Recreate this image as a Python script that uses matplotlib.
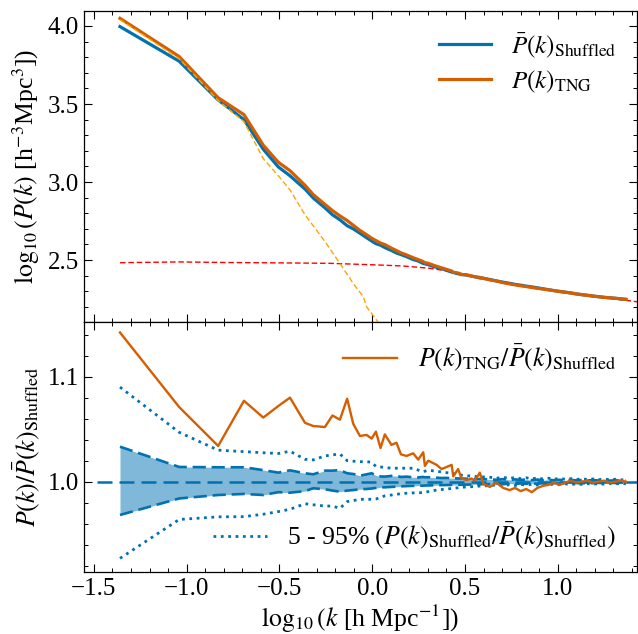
import matplotlib
matplotlib.use("Agg")
import matplotlib.pyplot as plt
from matplotlib.ticker import MultipleLocator, AutoMinorLocator

# ---------------------------------------------------------------- data
# log10 of the k-bin centres [h/Mpc]
log_k = [-1.359, -1.040, -0.830, -0.691, -0.587, -0.506, -0.443, -0.362,
         -0.318, -0.255, -0.214, -0.174, -0.135, -0.102, -0.066, -0.030,
         -0.003, 0.020, 0.045, 0.068, 0.104, 0.131, 0.155, 0.185, 0.221,
         0.248, 0.275, 0.284, 0.302, 0.347, 0.374, 0.401, 0.428, 0.437,
         0.463, 0.482, 0.509, 0.535, 0.553, 0.580, 0.598, 0.634, 0.670,
         0.706, 0.740, 0.770, 0.800, 0.830, 0.860, 0.890, 0.920, 0.950,
         0.980, 1.010, 1.040, 1.070, 1.100, 1.130, 1.160, 1.190, 1.220,
         1.250, 1.280, 1.310, 1.340, 1.367]

# log10 P(k): mean of the shuffled catalogues
logP_shuffled = [3.996, 3.774, 3.526, 3.400, 3.210, 3.097, 3.040, 2.955,
                 2.898, 2.835, 2.790, 2.758, 2.720, 2.700, 2.672, 2.643,
                 2.622, 2.605, 2.595, 2.580, 2.561, 2.545, 2.535, 2.522,
                 2.503, 2.494, 2.478, 2.476, 2.470, 2.453, 2.445, 2.434,
                 2.423, 2.420, 2.412, 2.407, 2.404, 2.397, 2.393, 2.385,
                 2.384, 2.375, 2.366, 2.358, 2.351, 2.344, 2.339, 2.333,
                 2.328, 2.322, 2.316, 2.310, 2.304, 2.299, 2.294, 2.289,
                 2.283, 2.278, 2.274, 2.269, 2.265, 2.261, 2.258, 2.255,
                 2.251, 2.248]

# log10 P(k): TNG
logP_tng = [4.049, 3.804, 3.540, 3.432, 3.236, 3.127, 3.073, 2.979,
            2.920, 2.857, 2.817, 2.783, 2.753, 2.723, 2.690, 2.662,
            2.640, 2.625, 2.609, 2.599, 2.576, 2.561, 2.546, 2.533,
            2.515, 2.503, 2.490, 2.483, 2.479, 2.460, 2.450, 2.440,
            2.430, 2.422, 2.417, 2.408, 2.405, 2.398, 2.393, 2.389,
            2.383, 2.373, 2.366, 2.355, 2.347, 2.341, 2.335, 2.330,
            2.324, 2.319, 2.314, 2.309, 2.304, 2.298, 2.294, 2.289,
            2.283, 2.278, 2.274, 2.269, 2.265, 2.261, 2.258, 2.255,
            2.251, 2.248]

# ratio P_TNG / mean P_shuffled
ratio_tng = [1.142, 1.071, 1.034, 1.077, 1.061, 1.072, 1.080, 1.056,
             1.053, 1.052, 1.063, 1.059, 1.079, 1.055, 1.0435, 1.0445,
             1.041, 1.0476, 1.032, 1.045, 1.035, 1.037, 1.026, 1.0245,
             1.027, 1.021, 1.028, 1.015, 1.020, 1.016, 1.012, 1.014,
             1.016, 1.005, 1.012, 1.003, 1.0016, 1.003, 1.001, 1.0086,
             0.998, 0.995, 0.999, 0.994, 0.992, 0.994, 0.991, 0.993,
             0.990, 0.994, 0.996, 0.997, 0.999, 0.997, 0.999, 1.001,
             0.999, 1.000, 1.001, 0.999, 1.000, 1.001, 0.999, 1.000,
             1.001, 1.000]

# 16th / 84th percentiles of the shuffled ratios
ratio_lo = [0.9683, 0.9840, 0.9873, 0.9883, 0.9873, 0.9900, 0.9895, 0.9910,
            0.9937, 0.9928, 0.9915, 0.9905, 0.9915, 0.9920, 0.9928, 0.9930,
            0.9935, 0.9940, 0.9946, 0.9946, 0.9950, 0.9952, 0.9955, 0.9958,
            0.9960, 0.9962, 0.9962, 0.9963, 0.9964, 0.9966, 0.9967, 0.9968,
            0.9969, 0.9969, 0.9970, 0.9971, 0.9972, 0.9973, 0.9974, 0.9975,
            0.9976, 0.9977, 0.9981, 0.9976, 0.9982, 0.9978, 0.9983, 0.9979,
            0.9984, 0.9980, 0.9985, 0.9981, 0.9986, 0.9982, 0.9987, 0.9983,
            0.9987, 0.9984, 0.9988, 0.9985, 0.9989, 0.9986, 0.9990, 0.9987,
            0.9991, 0.9989]
ratio_hi = [1.0333, 1.0140, 1.0137, 1.0137, 1.0110, 1.0086, 1.0108, 1.0080,
            1.0070, 1.0105, 1.0105, 1.0110, 1.0080, 1.0073, 1.0057, 1.0070,
            1.0080, 1.0060, 1.0050, 1.0048, 1.0055, 1.0054, 1.0045, 1.0048,
            1.0042, 1.0040, 1.0045, 1.0042, 1.0042, 1.0038, 1.0035, 1.0036,
            1.0032, 1.0034, 1.0030, 1.0031, 1.0028, 1.0027, 1.0026, 1.0025,
            1.0024, 1.0022, 1.0018, 1.0024, 1.0017, 1.0022, 1.0016, 1.0021,
            1.0015, 1.0020, 1.0014, 1.0019, 1.0013, 1.0018, 1.0012, 1.0017,
            1.0012, 1.0016, 1.0011, 1.0015, 1.0011, 1.0014, 1.0010, 1.0013,
            1.0009, 1.0011]

# 5th / 95th percentiles of the shuffled ratios
ratio_p05 = [0.9270, 0.9640, 0.9665, 0.9667, 0.9690, 0.9715, 0.9737, 0.9790,
             0.9780, 0.9768, 0.9768, 0.9746, 0.9810, 0.9820, 0.9832, 0.9832,
             0.9832, 0.9835, 0.9850, 0.9865, 0.9873, 0.9880, 0.9885, 0.9890,
             0.9893, 0.9895, 0.9895, 0.9900, 0.9905, 0.9920, 0.9925, 0.9930,
             0.9935, 0.9937, 0.9942, 0.9946, 0.9950, 0.9952, 0.9955, 0.9958,
             0.9960, 0.9962, 0.9970, 0.9961, 0.9972, 0.9964, 0.9974, 0.9966,
             0.9975, 0.9968, 0.9977, 0.9969, 0.9978, 0.9971, 0.9979, 0.9972,
             0.9980, 0.9974, 0.9981, 0.9975, 0.9982, 0.9976, 0.9983, 0.9978,
             0.9984, 0.9980]
ratio_p95 = [1.0900, 1.0470, 1.0300, 1.0286, 1.0275, 1.0268, 1.0290, 1.0213,
             1.0207, 1.0245, 1.0255, 1.0264, 1.0200, 1.0195, 1.0190, 1.0190,
             1.0185, 1.0145, 1.0140, 1.0135, 1.0128, 1.0128, 1.0128, 1.0128,
             1.0128, 1.0110, 1.0095, 1.0100, 1.0108, 1.0100, 1.0092, 1.0086,
             1.0080, 1.0078, 1.0068, 1.0062, 1.0058, 1.0052, 1.0050, 1.0048,
             1.0045, 1.0042, 1.0033, 1.0041, 1.0031, 1.0039, 1.0029, 1.0037,
             1.0027, 1.0035, 1.0026, 1.0033, 1.0024, 1.0031, 1.0023, 1.0029,
             1.0021, 1.0028, 1.0020, 1.0026, 1.0019, 1.0025, 1.0018, 1.0023,
             1.0017, 1.0020]

# model terms shown in the upper panel
log_k_flat = [-1.359, -1.040, -0.766, -0.500, -0.228, 0.042, 0.167, 0.311,
              0.418, 0.600, 0.800, 1.000, 1.200, 1.450]
logP_flat = [2.483, 2.488, 2.484, 2.482, 2.479, 2.468, 2.462, 2.447,
             2.428, 2.384, 2.338, 2.300, 2.268, 2.229]

log_k_steep = [-1.359, -1.040, -0.830, -0.691, -0.587, -0.506, -0.443, -0.362,
               -0.255, -0.174, -0.102, -0.048, -0.030, 0.024, 0.060]
logP_steep = [4.040, 3.790, 3.522, 3.387, 3.150, 3.040, 2.950, 2.790,
              2.620, 2.478, 2.350, 2.265, 2.200, 2.115, 2.050]

# ---------------------------------------------------------------- style
plt.rcParams.update({
    "font.family": ["Liberation Serif", "DejaVu Serif"],
    "mathtext.fontset": "stix",
    "font.size": 18.5,
    "xtick.labelsize": 18,
    "ytick.labelsize": 18,
    "axes.linewidth": 0.9,
    "xtick.direction": "in",
    "ytick.direction": "in",
    "xtick.top": True,
    "ytick.right": True,
    "xtick.major.size": 5.5,
    "ytick.major.size": 5.5,
    "xtick.minor.size": 3.0,
    "ytick.minor.size": 3.0,
    "xtick.major.width": 0.8,
    "ytick.major.width": 0.8,
    "xtick.minor.width": 0.7,
    "ytick.minor.width": 0.7,
    "xtick.major.pad": 4.5,
    "legend.frameon": False,
})

BLUE = "#0072B2"
ORANGE = "#D55E00"

fig = plt.figure(figsize=(6.38, 6.34), dpi=100)
ax1 = fig.add_axes([0.13166, 0.49211, 0.86677, 0.49054])
ax2 = fig.add_axes([0.13166, 0.09779, 0.86677, 0.39432], sharex=ax1)

# ---------------------------------------------------------------- upper panel
ax1.plot(log_k, logP_shuffled, color=BLUE, lw=2.3,
         label=r"$\bar{P}(k)_{\rm Shuffled}$", zorder=3)
ax1.plot(log_k, logP_tng, color=ORANGE, lw=2.3,
         label=r"$P(k)_{\rm TNG}$", zorder=4)
ax1.plot(log_k_flat, logP_flat, color="red", lw=1.0, ls="--",
         dashes=(4, 2), zorder=2)
ax1.plot(log_k_steep, logP_steep, color="orange", lw=1.0, ls="--",
         dashes=(4, 2), zorder=5)

ax1.set_xlim(-1.553, 1.427)
ax1.set_ylim(2.103, 4.096)
ax1.yaxis.set_major_locator(MultipleLocator(0.5))
ax1.yaxis.set_minor_locator(AutoMinorLocator(5))
ax1.xaxis.set_major_locator(MultipleLocator(0.5))
ax1.xaxis.set_minor_locator(AutoMinorLocator(5))
ax1.tick_params(axis="x", labelbottom=False)
ax1.set_ylabel(r"$\log_{10}(P(k)$ [h$^{-3}$Mpc$^{3}$])")
ax1.yaxis.set_label_coords(-0.076, 0.5)
ax1.legend(loc="upper right", handlelength=2.1, fontsize=18,
           handletextpad=0.8, labelspacing=0.35, borderaxespad=0.4)

# ---------------------------------------------------------------- lower panel
ax2.fill_between(log_k, ratio_lo, ratio_hi, color=BLUE, alpha=0.5, lw=0)
ax2.plot(log_k, ratio_lo, color=BLUE, lw=1.9, ls="--", dashes=(5, 2.2))
ax2.plot(log_k, ratio_hi, color=BLUE, lw=1.9, ls="--", dashes=(5, 2.2))
ax2.axhline(1.0, xmin=0.024, xmax=1.0, color=BLUE, lw=1.8, ls="--",
            dashes=(6, 2.8))
l_dot, = ax2.plot(log_k, ratio_p05, color=BLUE, lw=2.0, ls=":",
                  label=r"5 - 95% $(P(k)_{\rm Shuffled}/\bar{P}(k)_{\rm Shuffled})$")
ax2.plot(log_k, ratio_p95, color=BLUE, lw=2.0, ls=":")
l_tng, = ax2.plot(log_k, ratio_tng, color=ORANGE, lw=1.7,
                  label=r"$P(k)_{\rm TNG}/\bar{P}(k)_{\rm Shuffled}$", zorder=4)

ax2.set_ylim(0.914, 1.152)
ax2.yaxis.set_major_locator(MultipleLocator(0.1))
ax2.yaxis.set_minor_locator(AutoMinorLocator(5))
ax2.set_xlabel(r"$\log_{10}(k$ [h Mpc$^{-1}$])", labelpad=2)
ax2.set_ylabel(r"$P(k)/\bar{P}(k)_{\rm Shuffled}$")
ax2.yaxis.set_label_coords(-0.076, 0.5)

leg_top = ax2.legend(handles=[l_tng], loc="upper right", handlelength=2.1,
                     fontsize=18.5, handletextpad=0.8, borderaxespad=0.4)
ax2.add_artist(leg_top)
ax2.legend(handles=[l_dot], loc="lower right", handlelength=2.1, fontsize=18.5,
           handletextpad=0.8, borderaxespad=0.4)

fig.savefig("out.png", dpi=100)
